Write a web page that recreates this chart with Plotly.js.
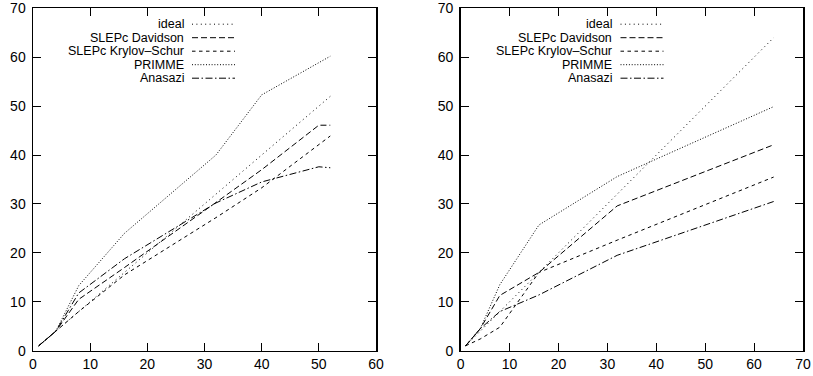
<!DOCTYPE html>
<html>
<head>
<meta charset="utf-8">
<script src="https://cdn.plot.ly/plotly-3.0.1.min.js"></script>
<style>html,body{margin:0;padding:0;background:#fff;}#chart{width:813px;height:376px;}</style>
</head>
<body>
<div id="chart"></div>
<script>
// ---- Left panel data ----
const leftIdealX = [1, 52];
const leftIdealY = [1, 52];
const leftDavidsonX = [1, 4, 8, 16, 32, 40, 50, 52];
const leftDavidsonY = [1, 4, 10.5, 17, 30.3, 37, 46.1, 46.1];
const leftKrylovX = [1, 4, 8, 16, 32, 40, 52];
const leftKrylovY = [1, 4, 8, 15.5, 27.2, 33.3, 43.9];
const leftPrimmeX = [1, 4, 8, 16, 32, 40, 52];
const leftPrimmeY = [1, 4, 13.3, 24, 40, 52.3, 60.2];
const leftAnasaziX = [1, 4, 8, 16, 32, 40, 50, 52];
const leftAnasaziY = [1, 4, 11.8, 18.8, 30.2, 34.5, 37.6, 37.4];

// ---- Right panel data ----
const rightIdealX = [1, 64];
const rightIdealY = [1, 64];
const rightDavidsonX = [1, 4, 8, 16, 32, 64];
const rightDavidsonY = [1, 4.5, 11.3, 16, 29.6, 42.1];
const rightKrylovX = [1, 4, 8, 16, 32, 64];
const rightKrylovY = [1, 2.4, 4.8, 16, 22.6, 35.5];
const rightPrimmeX = [1, 4, 8, 16, 32, 64];
const rightPrimmeY = [1, 4.5, 13.5, 25.7, 35.6, 49.9];
const rightAnasaziX = [1, 4, 8, 16, 32, 64];
const rightAnasaziY = [1, 4.5, 8, 11.4, 19.5, 30.5];

const seriesNames = ["ideal", "SLEPc Davidson", "SLEPc Krylov\u2013Schur", "PRIMME", "Anasazi"];
const xTicks = { left: [0, 10, 20, 30, 40, 50, 60], right: [0, 10, 20, 30, 40, 50, 60, 70] };
const yTicks = [0, 10, 20, 30, 40, 50, 60, 70];

const dashes = ["1px,3.4px", "6px,3px", "3.5px,3.5px", "1px,1.8px", "7px,2.5px,1.5px,2.5px"];

const panels = [
  { xs: [leftIdealX, leftDavidsonX, leftKrylovX, leftPrimmeX, leftAnasaziX],
    ys: [leftIdealY, leftDavidsonY, leftKrylovY, leftPrimmeY, leftAnasaziY], xa: "x", ya: "y" },
  { xs: [rightIdealX, rightDavidsonX, rightKrylovX, rightPrimmeX, rightAnasaziX],
    ys: [rightIdealY, rightDavidsonY, rightKrylovY, rightPrimmeY, rightAnasaziY], xa: "x2", ya: "y2" }
];

const traces = [];
panels.forEach(p => {
  for (let i = 0; i < 5; i++) {
    traces.push({
      x: p.xs[i], y: p.ys[i], xaxis: p.xa, yaxis: p.ya, type: "scatter", mode: "lines",
      name: seriesNames[i], showlegend: false,
      line: { color: "#000", width: 1, dash: dashes[i] }, hoverinfo: "skip"
    });
  }
});

const W = 813, H = 376;
const fontFam = "Liberation Sans, Arial, sans-serif";
function axisBase(tv, range) {
  return {
    range: range, tickvals: tv, ticktext: tv.map(String), ticks: "inside", ticklen: 8,
    tickwidth: 1, tickcolor: "#000", showline: true, linecolor: "#000", linewidth: 1.5,
    mirror: "ticks", showgrid: false, zeroline: false,
    tickfont: { family: fontFam, size: 14, color: "#000" }, fixedrange: true
  };
}

const xDomL = [33 / W, 376 / W];
const xDomR = [460.7 / W, 803 / W];
const yDom = [(H - 350.7) / H, (H - 8.3) / H];

const layout = {
  width: W, height: H, margin: { l: 0, r: 0, t: 0, b: 0 },
  paper_bgcolor: "#fff", plot_bgcolor: "#fff", showlegend: false,
  xaxis: Object.assign(axisBase(xTicks.left, [0, 60]), { domain: xDomL, anchor: "y" }),
  yaxis: Object.assign(axisBase(yTicks, [0, 70]), { domain: yDom, anchor: "x", ticklabelstandoff: 3 }),
  xaxis2: Object.assign(axisBase(xTicks.right, [0, 70]), { domain: xDomR, anchor: "y2" }),
  yaxis2: Object.assign(axisBase(yTicks, [0, 70]), { domain: yDom, anchor: "x2", ticklabelstandoff: 3 }),
  annotations: [], shapes: []
};

const rowY = [24.2, 37.7, 51.2, 64.7, 78.2];
const legendPos = [
  { textRight: 185, lineX0: 192, lineX1: 235 },
  { textRight: 613, lineX0: 620.5, lineX1: 663.5 }
];
legendPos.forEach(lp => {
  for (let i = 0; i < 5; i++) {
    const yp = (H - rowY[i]) / H;
    layout.annotations.push({
      xref: "paper", yref: "paper", x: lp.textRight / W, y: yp, xanchor: "right", yanchor: "middle",
      text: seriesNames[i], showarrow: false, borderpad: 0,
      font: { family: fontFam, size: 12.5, color: "#000" }
    });
    layout.shapes.push({
      type: "line", xref: "paper", yref: "paper", x0: lp.lineX0 / W, x1: lp.lineX1 / W, y0: yp, y1: yp,
      line: { color: "#000", width: 1, dash: dashes[i] }
    });
  }
});

Plotly.newPlot("chart", traces, layout, { staticPlot: true, displayModeBar: false });
</script>
</body>
</html>
